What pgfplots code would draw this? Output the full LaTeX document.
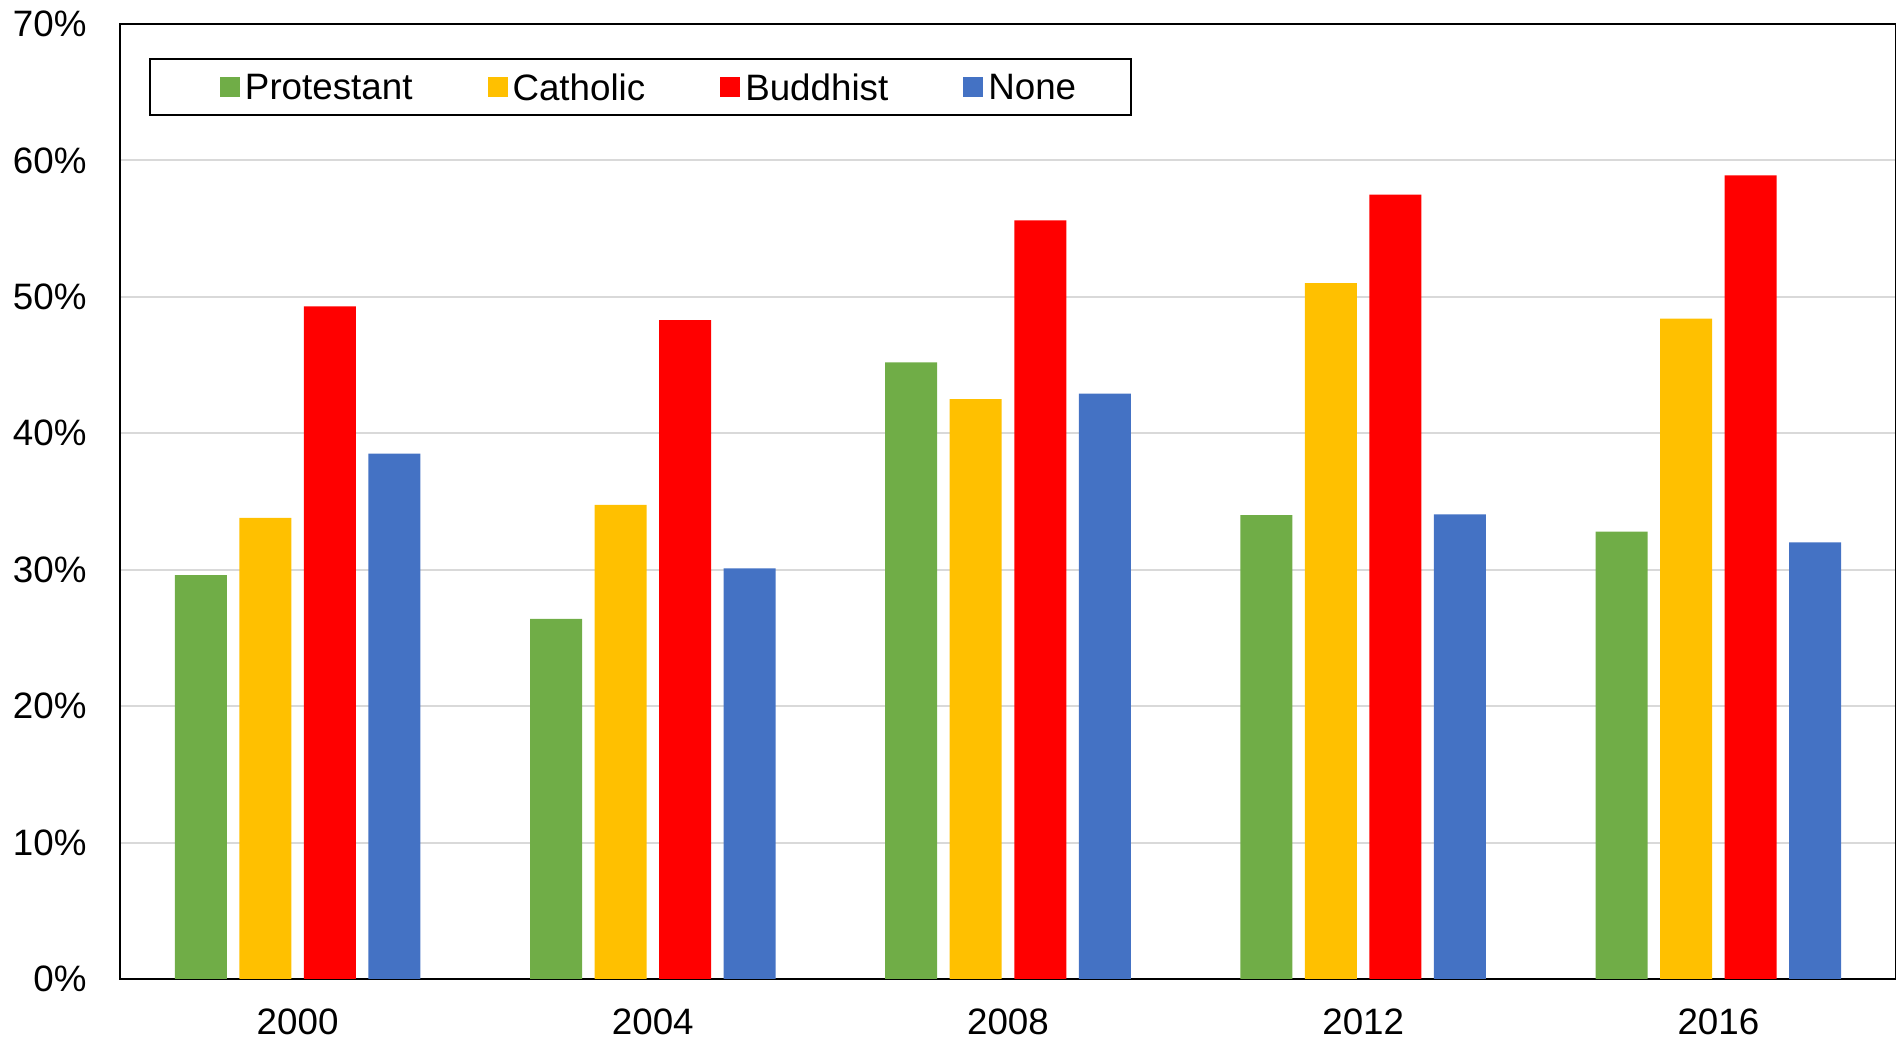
\documentclass[border=0pt]{standalone}
\usepackage{pgfplots}
\pgfplotsset{compat=1.18}
\usepackage{fontspec}
\setmainfont{Liberation Sans}
\definecolor{cP}{HTML}{70AD47}
\definecolor{cC}{HTML}{FFC000}
\definecolor{cB}{HTML}{FF0000}
\definecolor{cN}{HTML}{4472C4}
\definecolor{gridc}{HTML}{D9D9D9}
\begin{document}
\fontsize{14.7}{17}\selectfont
\begin{tikzpicture}
\begin{axis}[
  at={(0,0)}, anchor=south west,
  scale only axis,
  width=710.4pt, height=382pt,
  ybar=5pt, bar width=20.8pt,
  xmin=-0.5, xmax=4.5,
  ymin=0, ymax=70,
  xtick={0,1,2,3,4},
  xticklabels={2000,2004,2008,2012,2016},
  ytick={0,10,20,30,40,50,60,70},
  yticklabels={0\%,10\%,20\%,30\%,40\%,50\%,60\%,70\%},
  major tick length=0pt,
  xmajorgrids=false,
  ymajorgrids=true,
  grid style={draw=gridc, line width=0.8pt},
  axis line style={black, line width=0.8pt},
  tick label style={font=\fontsize{14.7}{17}\selectfont},
  yticklabel style={anchor=east, inner sep=0pt, xshift=-13.2pt},
  xticklabel style={anchor=north, inner sep=0pt, yshift=-11.6pt},
  legend columns=4,
  legend style={
    at={(rel axis cs:0.01633,0.9644)}, anchor=north west,
    draw=black, line width=0.8pt,
    inner xsep=20pt, inner ysep=3.9pt,
    font=\fontsize{14.7}{17}\selectfont,
    nodes={text depth=0pt},
    /tikz/every even column/.append style={column sep=20pt},
  },
  legend cell align=left,
  legend image code/.code={\path (0pt,0pt); \fill[#1,draw=none] (8pt,-4pt) rectangle (16pt,4pt);},
]
\addplot[fill=cP, draw=none] coordinates {(0,29.6) (1,26.4) (2,45.2) (3,34.0) (4,32.8)};
\addplot[fill=cC, draw=none] coordinates {(0,33.8) (1,34.75) (2,42.5) (3,51.0) (4,48.4)};
\addplot[fill=cB, draw=none] coordinates {(0,49.3) (1,48.3) (2,55.6) (3,57.5) (4,58.9)};
\addplot[fill=cN, draw=none] coordinates {(0,38.5) (1,30.1) (2,42.9) (3,34.05) (4,32.0)};
\legend{Protestant,Catholic,Buddhist,None}
\end{axis}
\pgfresetboundingbox
\path[use as bounding box] (-48pt,-24.8pt) rectangle (710.4pt,391.6pt);
\end{tikzpicture}
\end{document}
